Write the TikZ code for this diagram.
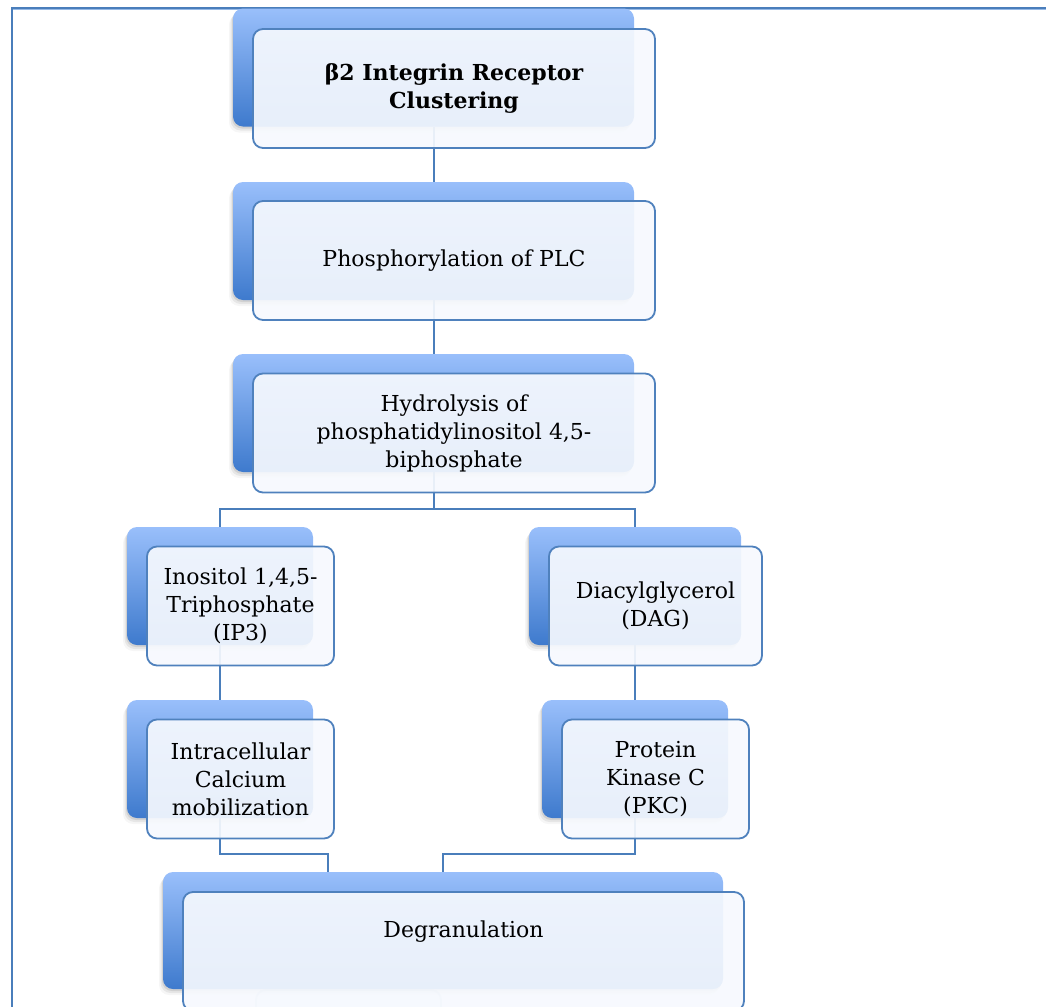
\documentclass[tikz,border=0pt]{standalone}
\usepackage{fontspec}
\setmainfont{DejaVu Serif}
\usetikzlibrary{shadows}
\definecolor{lineblue}{RGB}{74,126,187}
\definecolor{bordblue}{RGB}{79,129,189}
\definecolor{backtop}{RGB}{153,191,251}
\definecolor{backbot}{RGB}{62,122,205}
\definecolor{frontfill}{RGB}{246,249,254}
\definecolor{ghostcol}{RGB}{214,224,238}
\definecolor{framelight}{RGB}{150,185,230}
\pgfdeclarelayer{bg}
\pgfsetlayers{bg,main}
\begin{document}
\begin{tikzpicture}[x=0.5pt,y=-0.5pt,
  backbox/.style={rectangle, rounded corners=5pt, top color=backtop, bottom color=backbot,
    draw=none, minimum height=59pt, inner sep=0pt,
    drop shadow={shadow xshift=-0.5pt, shadow yshift=-1pt, opacity=0.2},
    drop shadow={shadow xshift=-1.2pt, shadow yshift=-2pt, opacity=0.14},
    drop shadow={shadow xshift=-2pt, shadow yshift=-3pt, opacity=0.07}},
  frontbox/.style={rectangle, rounded corners=5pt, draw=bordblue, line width=0.9pt,
    fill=frontfill, fill opacity=0.92, text opacity=1, draw opacity=1,
    minimum height=59.5pt, inner sep=0pt, align=center,
    font=\fontsize{11}{14}\selectfont},
  lbl/.style={inner sep=0pt, align=center, font=\fontsize{11}{14}\selectfont},
  conn/.style={draw=lineblue, line width=1pt},
  ghostbox/.style={rectangle, rounded corners=5pt, draw=ghostcol, line width=0.9pt, fill=white,
    minimum width=92.5pt, minimum height=40pt, inner sep=0pt}]
\clip (0,0) rectangle (1046,1007);
% frame
\draw[lineblue, line width=1pt] (12,1007) -- (12,8) -- (1046,8);
\draw[framelight, line width=0.5pt] (13,9.5) -- (1046,9.5);

% boxes
\node[backbox, minimum width=200.5pt] (b1) at (433.5,67.5) {};
\node[frontbox, minimum width=201pt] (f1) at (454,88.5) {\bfseries β2 Integrin Receptor\\\bfseries Clustering};

\node[backbox, minimum width=200.5pt] (b2) at (433.5,241) {};
\node[frontbox, minimum width=201pt] (f2) at (454,260.5) {Phosphorylation of PLC};

\node[backbox, minimum width=200.5pt] (b3) at (433.5,413) {};
\node[frontbox, minimum width=201pt] (f3) at (454,433) {Hydrolysis of\\phosphatidylinositol 4,5-\\biphosphate};

\node[backbox, minimum width=93pt] (b4l) at (220,586) {};
\node[frontbox, minimum width=93.5pt] (f4l) at (240.5,606) {Inositol 1,4,5-\\Triphosphate\\(IP3)};

\node[backbox, minimum width=106pt] (b4r) at (635,586) {};
\node[frontbox, minimum width=106.5pt] (f4r) at (655.5,606) {Diacylglycerol\\(DAG)};

\node[backbox, minimum width=93pt] (b5l) at (220,759) {};
\node[frontbox, minimum width=93.5pt] (f5l) at (240.5,779) {Intracellular\\Calcium\\mobilization};

\node[backbox, minimum width=93pt] (b5r) at (635,759) {};
\node[frontbox, minimum width=93.5pt] (f5r) at (655.5,779) {Protein\\Kinase C\\(PKC)};

\node[backbox, minimum width=280pt, minimum height=58.5pt] (b6) at (443,930.5) {};
\node[frontbox, minimum width=280.5pt] (f6) at (463.5,951.5) {};
\node[lbl] (t6) at (463.5,932) {Degranulation};

% connectors and hidden parts (behind)
\begin{pgfonlayer}{bg}
  \node[ghostbox] (g) at (348.5,1030) {};
  \coordinate (j) at (433.5,509);
  \coordinate (m1) at (328,854);
  \coordinate (m2) at (443,854);
  \draw[conn] (b1.south) -- (b2.north);
  \draw[conn] (b2.south) -- (b3.north);
  \draw[conn] (b3.south) -- (j) -| (b4l.north);
  \draw[conn] (j) -| (b4r.north);
  \draw[conn] (b4l.south) -- (b5l.north);
  \draw[conn] (b4r.south) -- (b5r.north);
  \draw[conn] (b5l.south) |- (m1) -- (m1 |- b6.north);
  \draw[conn] (b5r.south) |- (m2) -- (b6.north);
\end{pgfonlayer}
\end{tikzpicture}
\end{document}
